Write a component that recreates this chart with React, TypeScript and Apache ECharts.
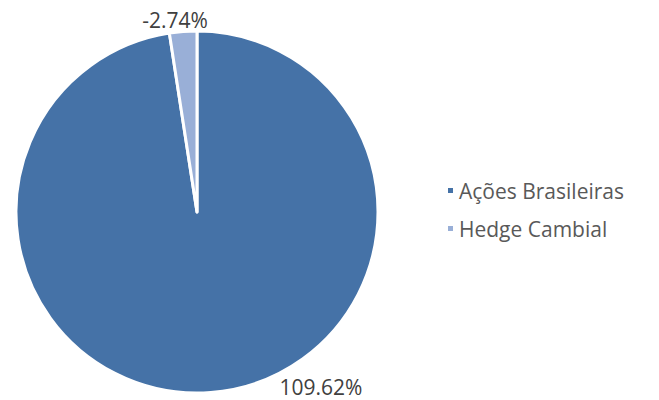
import React, { useEffect, useRef } from "react";
import * as echarts from "echarts";

const categories = ["Ações Brasileiras", "Hedge Cambial"];
const values = [109.62, 2.74];
const labels = ["109.62%", "-2.74%"];
const colors = ["#4572A7", "#99AFD7"];

export default function App() {
  const ref = useRef<HTMLDivElement>(null);
  useEffect(() => {
    document.body.style.margin = "0";
    const chart = echarts.init(ref.current!, null, { renderer: "svg" });
    const labelPos = [
      { x: 321, y: 387 },
      { x: 175, y: 20 },
    ];
    chart.setOption({
      animation: false,
      legend: {
        orient: "vertical",
        left: 441,
        top: 175,
        itemWidth: 7,
        itemHeight: 7,
        itemGap: 17,
        icon: "rect",
        data: categories,
        textStyle: { fontSize: 21, color: "#595959", fontFamily: "Open Sans" },
      },
      series: [
        {
          type: "pie",
          center: [197, 212],
          radius: [0, 181],
          startAngle: 90,
          clockwise: true,
          silent: true,
          itemStyle: { borderColor: "#fff", borderWidth: 3 },
          label: {
            show: true,
            formatter: (p: any) => labels[p.dataIndex],
            fontSize: 21,
            color: "#404040",
            fontFamily: "Open Sans",
          },
          labelLine: { show: false },
          labelLayout: (p: any) => ({
            x: labelPos[p.dataIndex].x,
            y: labelPos[p.dataIndex].y,
            align: "center",
            verticalAlign: "middle",
          }),
          data: categories.map((name, i) => ({
            name,
            value: values[i],
            itemStyle: { color: colors[i] },
          })),
        },
      ],
    });
    return () => chart.dispose();
  }, []);
  return <div ref={ref} style={{ width: 659, height: 400 }} />;
}
